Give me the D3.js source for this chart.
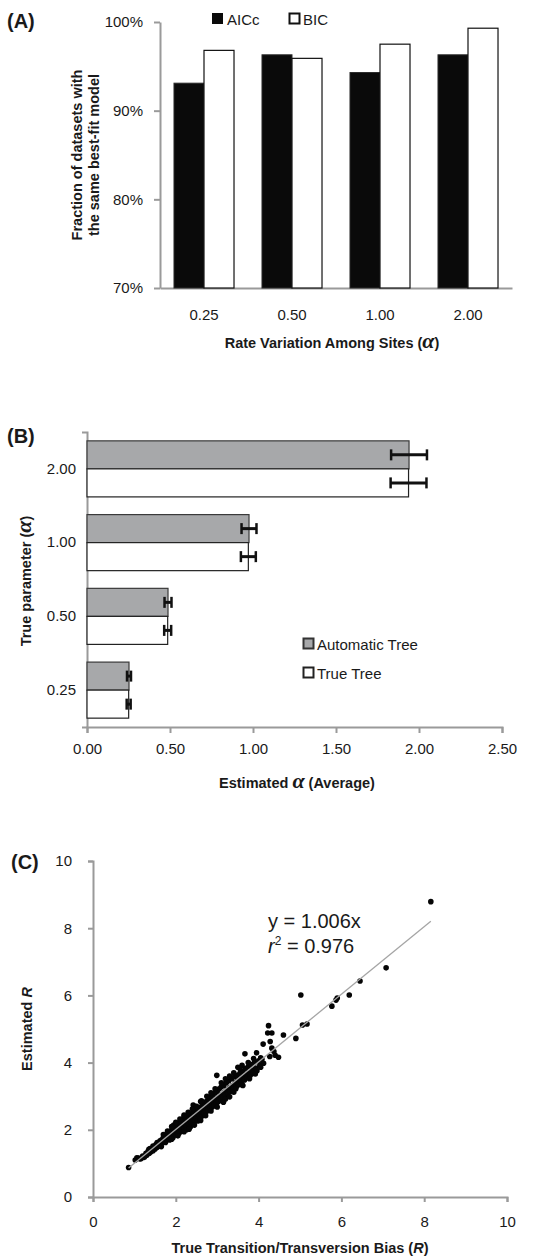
<!DOCTYPE html>
<html>
<head>
<meta charset="utf-8">
<script src="https://cdn.jsdelivr.net/npm/d3@7"></script>
<style>
body{margin:0;background:#fff}
svg{display:block}
text{font-family:"Liberation Sans",Arial,sans-serif;fill:#1a1a1a}
</style>
</head>
<body>
<svg id="fig" width="548" height="1257"></svg>
<script>
// (A) fraction of datasets with the same best-fit model
var rateCats = ["0.25", "0.50", "1.00", "2.00"];
var aiccValues = [0.931, 0.963, 0.943, 0.963];
var bicValues = [0.968, 0.959, 0.975, 0.993];
var pctTicks = [0.70, 0.80, 0.90, 1.00];

// (B) estimated alpha, mean with error
var alphaCats = ["2.00", "1.00", "0.50", "0.25"];
var autoTreeMeans = [1.940, 0.976, 0.488, 0.253];
var autoTreeErr = [0.108, 0.045, 0.021, 0.012];
var trueTreeMeans = [1.937, 0.972, 0.486, 0.251];
var trueTreeErr = [0.108, 0.045, 0.021, 0.012];
var estTicks = [0, 0.5, 1, 1.5, 2, 2.5];

// (C) true vs estimated R
var rTicks = [0, 2, 4, 6, 8, 10];
var fitSlope = 1.006;
var fitR2 = 0.976;
var fitXRange = [0.86, 8.16];
var rPoints = [
	[0.86,0.88],[1.02,1.10],[1.06,1.17],[1.10,1.16],[1.12,1.14],[1.15,1.13],[1.18,1.16],[1.20,1.22],
	[1.24,1.18],[1.28,1.30],[1.30,1.24],[1.33,1.36],[1.36,1.30],[1.38,1.44],[1.40,1.35],[1.43,1.46],
	[1.45,1.38],[1.48,1.50],[1.50,1.43],[1.52,1.56],[1.55,1.48],[1.57,1.60],[1.60,1.52],[1.62,1.67],
	[1.64,1.58],[1.66,1.70],[1.68,1.62],[1.70,1.77],[1.72,1.66],[1.74,1.81],[1.76,1.70],[1.78,1.85],
	[1.80,1.74],[1.82,1.89],[1.84,1.78],[1.85,1.70],[1.87,1.94],[1.88,1.82],[1.90,1.99],[1.92,1.86],
	[1.93,1.76],[1.95,2.03],[1.96,1.90],[1.98,2.08],[2.00,1.94],[2.01,1.84],[2.03,2.12],[2.05,1.98],
	[2.06,2.20],[2.08,1.90],[2.10,2.14],[2.11,2.03],[2.13,2.26],[2.15,1.96],[2.16,2.10],[2.18,2.30],
	[2.20,2.04],[2.21,2.18],[2.23,2.36],[2.25,2.12],[2.26,2.00],[2.28,2.27],[2.30,2.42],[2.31,2.16],
	[2.33,2.31],[2.35,2.08],[2.36,2.46],[2.38,2.22],[2.40,2.35],[2.41,2.50],[2.43,2.18],[2.45,2.41],
	[2.46,2.28],[2.48,2.56],[2.50,2.36],[2.52,2.47],[2.53,2.26],[2.55,2.62],[2.57,2.44],[2.58,2.34],
	[2.60,2.68],[2.62,2.52],[2.63,2.40],[2.65,2.72],[2.67,2.58],[2.68,2.48],[2.70,2.80],[2.72,2.62],
	[2.73,2.52],[2.75,2.86],[2.77,2.70],[2.78,2.58],[2.80,2.92],[2.82,2.74],[2.83,2.62],[2.85,2.98],
	[2.87,2.80],[2.88,2.68],[2.90,3.04],[2.92,2.86],[2.93,2.72],[2.95,3.10],[2.97,2.92],[2.98,2.78],
	[3.00,3.14],[3.02,2.96],[3.03,2.84],[3.05,3.22],[3.07,3.02],[3.09,2.90],[3.10,3.28],[3.12,3.06],
	[3.14,2.96],[3.16,3.32],[3.18,3.12],[3.20,3.02],[3.22,3.40],[3.24,3.20],[3.26,3.08],[3.28,3.46],
	[3.30,3.26],[3.32,3.14],[3.35,3.52],[3.37,3.32],[3.39,3.20],[3.42,3.58],[3.44,3.40],[3.46,3.28],
	[3.48,3.62],[3.50,3.46],[3.52,3.34],[3.55,3.68],[3.57,3.52],[3.59,3.42],[3.62,3.74],[3.64,3.58],
	[3.66,3.48],[3.68,3.82],[3.70,3.64],[3.72,3.56],[3.75,3.88],[3.77,3.70],[3.80,3.62],[3.82,3.94],
	[3.85,3.78],[3.88,3.68],[3.90,4.00],[3.93,3.84],[3.96,3.76],[4.00,4.05],[4.03,3.92],[4.08,4.10],
	[4.12,3.98],[2.42,2.74],[2.99,3.62],[2.30,2.52],[2.60,2.84],[3.30,3.60],[3.50,3.86],[3.60,3.92],
	[3.67,4.26],[3.95,4.29],[4.05,4.14],[3.20,2.92],[3.40,3.12],[3.62,3.32],[2.20,2.40],[1.95,2.14],
	[1.70,1.86],[1.80,1.96],[1.90,2.10],[2.00,2.22],[2.10,2.32],[2.20,2.44],[2.40,2.62],[2.50,2.70],
	[2.62,2.86],[2.75,3.00],[2.85,3.10],[2.95,3.22],[3.10,3.40],[3.20,3.52],[3.40,3.70],[3.55,3.82],
	[3.75,4.00],[3.88,4.12],[1.75,1.62],[1.90,1.72],[2.05,1.82],[2.20,1.94],[2.32,2.02],[2.45,2.14],
	[2.60,2.28],[2.72,2.42],[2.85,2.56],[3.00,2.68],[3.15,2.82],[3.30,2.98],[3.45,3.22],[3.60,3.34],
	[3.78,3.52],[3.92,3.66],[4.05,3.86],[1.55,1.62],[1.45,1.52],[1.35,1.42],[1.65,1.50],
	[4.11,4.55],[4.22,4.88],[4.32,4.88],[4.24,5.10],[4.28,4.63],[4.32,4.43],[4.37,4.33],[4.27,4.18],
	[4.40,4.22],[4.48,4.16],[4.60,4.82],[4.90,4.72],[5.06,5.12],[5.17,5.15],[5.02,6.01],[5.77,5.68],
	[5.87,5.86],[5.90,5.92],[6.19,6.01],[6.45,6.43],[7.08,6.82],[8.16,8.79]
];

var svg = d3.select("#fig");
var axisGray = "#9a9a9a";

function styleAxis(g) {
	g.selectAll(".domain").attr("stroke", axisGray).attr("stroke-width", 2);
	g.selectAll(".tick line").attr("stroke", axisGray).attr("stroke-width", 2);
	g.selectAll(".tick text").attr("font-size", 15).attr("fill", "#1a1a1a")
		.attr("font-family", "Liberation Sans, Arial, sans-serif");
}

function alphaSpan(t) {
	t.append("tspan").attr("font-family", "Liberation Serif, serif").attr("font-style", "italic")
		.attr("font-weight", "bold").attr("font-size", 22).text("\u03b1");
}

// ---------- Panel A ----------
var gA = svg.append("g");
var xA = d3.scaleBand().domain(rateCats).range([160, 512]).paddingInner(0.318).paddingOuter(0.159);
var xSubA = d3.scaleBand().domain(["AICc", "BIC"]).range([0, xA.bandwidth()]);
var yA = d3.scaleLinear().domain([0.70, 1.00]).range([288, 22]);

gA.append("g").attr("transform", "translate(160,0)")
	.call(d3.axisLeft(yA).tickValues(pctTicks).tickFormat(d3.format(".0%")).tickSize(6).tickSizeOuter(0).tickPadding(11))
	.call(styleAxis);
gA.append("g").attr("transform", "translate(0,288)")
	.call(d3.axisBottom(xA).tickSize(0).tickPadding(21))
	.call(styleAxis);

gA.selectAll(".aicc").data(aiccValues).join("rect")
	.attr("x", function(d, i) { return xA(rateCats[i]) + xSubA("AICc"); })
	.attr("y", function(d) { return yA(d); })
	.attr("width", xSubA.bandwidth())
	.attr("height", function(d) { return yA(0.70) - yA(d); })
	.attr("fill", "#0a0a0a").attr("stroke", "#2a2a2a").attr("stroke-width", 1);
gA.selectAll(".bic").data(bicValues).join("rect")
	.attr("x", function(d, i) { return xA(rateCats[i]) + xSubA("BIC"); })
	.attr("y", function(d) { return yA(d); })
	.attr("width", xSubA.bandwidth())
	.attr("height", function(d) { return yA(0.70) - yA(d); })
	.attr("fill", "#fff").attr("stroke", "#111").attr("stroke-width", 1.2);

// legend
gA.append("rect").attr("x", 212).attr("y", 13).attr("width", 11).attr("height", 11).attr("fill", "#0a0a0a");
gA.append("text").attr("x", 227).attr("y", 25).attr("font-size", 15).text("AICc");
gA.append("rect").attr("x", 289.5).attr("y", 13.5).attr("width", 10).attr("height", 10)
	.attr("fill", "#fff").attr("stroke", "#111").attr("stroke-width", 2);
gA.append("text").attr("x", 303).attr("y", 25).attr("font-size", 15).text("BIC");

gA.append("text").attr("x", 7).attr("y", 28).attr("font-size", 20).attr("font-weight", "bold").text("(A)");
var yTitleA = gA.append("text").attr("transform", "translate(82,155) rotate(-90)")
	.attr("text-anchor", "middle").attr("font-size", 14.5).attr("font-weight", "bold");
yTitleA.append("tspan").attr("x", 0).attr("dy", 0).text("Fraction of datasets with");
yTitleA.append("tspan").attr("x", 0).attr("dy", 16.5).text("the same best-fit model");
var xTitleA = gA.append("text").attr("x", 332).attr("y", 348).attr("text-anchor", "middle")
	.attr("font-size", 14.5).attr("font-weight", "bold");
xTitleA.append("tspan").text("Rate Variation Among Sites (");
alphaSpan(xTitleA);
xTitleA.append("tspan").text(")");

// ---------- Panel B ----------
var gB = svg.append("g");
var xB = d3.scaleLinear().domain([0, 2.5]).range([87, 502]);
var yB = d3.scaleBand().domain(alphaCats).range([432, 727]).paddingInner(0.24).paddingOuter(0.12);
var ySubB = d3.scaleBand().domain(["auto", "true"]).range([0, yB.bandwidth()]);

gB.append("g").attr("transform", "translate(0,727)")
	.call(d3.axisBottom(xB).tickValues(estTicks).tickFormat(d3.format(".2f")).tickSize(6).tickSizeOuter(6).tickPadding(10))
	.call(styleAxis);
gB.append("g").attr("transform", "translate(87,0)")
	.call(d3.axisLeft(yB).tickSize(0).tickSizeOuter(5).tickPadding(11))
	.call(styleAxis);

var seriesB = [
	{key: "auto", means: autoTreeMeans, err: autoTreeErr, fill: "#a7a8aa", stroke: "#3a3a3a"},
	{key: "true", means: trueTreeMeans, err: trueTreeErr, fill: "#fff", stroke: "#222"}
];
seriesB.forEach(function(s) {
	gB.selectAll(".bar-" + s.key).data(s.means).join("rect")
		.attr("x", xB(0))
		.attr("y", function(d, i) { return yB(alphaCats[i]) + ySubB(s.key); })
		.attr("width", function(d) { return xB(d) - xB(0); })
		.attr("height", ySubB.bandwidth())
		.attr("fill", s.fill).attr("stroke", s.stroke).attr("stroke-width", 1.2);
});
seriesB.forEach(function(s) {
	s.means.forEach(function(m, i) {
		var cy = yB(alphaCats[i]) + ySubB(s.key) + ySubB.bandwidth() / 2;
		var x0 = xB(m - s.err[i]), x1 = xB(m + s.err[i]);
		gB.append("line").attr("x1", x0).attr("x2", x1).attr("y1", cy).attr("y2", cy)
			.attr("stroke", "#111").attr("stroke-width", 3);
		[x0, x1].forEach(function(x) {
			gB.append("line").attr("x1", x).attr("x2", x).attr("y1", cy - 5.5).attr("y2", cy + 5.5)
				.attr("stroke", "#111").attr("stroke-width", 2.5);
		});
	});
});

// legend
gB.append("rect").attr("x", 303.5).attr("y", 638.5).attr("width", 10).attr("height", 10)
	.attr("fill", "#a7a8aa").attr("stroke", "#333").attr("stroke-width", 2);
gB.append("text").attr("x", 317).attr("y", 650).attr("font-size", 15).text("Automatic Tree");
gB.append("rect").attr("x", 303.5).attr("y", 667.5).attr("width", 10).attr("height", 10)
	.attr("fill", "#fff").attr("stroke", "#222").attr("stroke-width", 2);
gB.append("text").attr("x", 317).attr("y", 679).attr("font-size", 15).text("True Tree");

gB.append("text").attr("x", 7).attr("y", 443).attr("font-size", 20).attr("font-weight", "bold").text("(B)");
var yTitleB = gB.append("text").attr("transform", "translate(31,581) rotate(-90)")
	.attr("text-anchor", "middle").attr("font-size", 14.5).attr("font-weight", "bold");
yTitleB.append("tspan").text("True parameter (");
alphaSpan(yTitleB);
yTitleB.append("tspan").text(")");
var xTitleB = gB.append("text").attr("x", 297).attr("y", 788).attr("text-anchor", "middle")
	.attr("font-size", 14.5).attr("font-weight", "bold");
xTitleB.append("tspan").text("Estimated ");
alphaSpan(xTitleB);
xTitleB.append("tspan").text(" (Average)");

// ---------- Panel C ----------
var gC = svg.append("g");
var xC = d3.scaleLinear().domain([0, 10]).range([93, 507]);
var yC = d3.scaleLinear().domain([0, 10]).range([1197, 861]);

gC.append("g").attr("transform", "translate(0,1197)")
	.call(d3.axisBottom(xC).tickValues(rTicks).tickSize(5).tickSizeOuter(5).tickPadding(14))
	.call(styleAxis);
gC.append("g").attr("transform", "translate(93,0)")
	.call(d3.axisLeft(yC).tickValues(rTicks).tickSize(5).tickSizeOuter(5).tickPadding(16))
	.call(styleAxis);

gC.selectAll(".pt").data(rPoints).join("circle")
	.attr("cx", function(d) { return xC(d[0]); })
	.attr("cy", function(d) { return yC(d[1]); })
	.attr("r", 2.8)
	.attr("fill", "#050505");

// trend line through origin
gC.append("line")
	.attr("x1", xC(fitXRange[0])).attr("y1", yC(fitSlope * fitXRange[0]))
	.attr("x2", xC(fitXRange[1])).attr("y2", yC(fitSlope * fitXRange[1]))
	.attr("stroke", "#a5a5a5").attr("stroke-width", 1.3);

gC.append("text").attr("x", 268).attr("y", 928).attr("font-size", 20).text("y = " + fitSlope.toFixed(3) + "x");
var r2 = gC.append("text").attr("x", 268).attr("y", 953).attr("font-size", 20);
r2.append("tspan").attr("font-style", "italic").text("r");
r2.append("tspan").attr("font-size", 12).attr("dy", -8).text("2");
r2.append("tspan").attr("dy", 8).text(" = " + fitR2.toFixed(3));

gC.append("text").attr("x", 11).attr("y", 869).attr("font-size", 20).attr("font-weight", "bold").text("(C)");
var yTitleC = gC.append("text").attr("transform", "translate(32,1029) rotate(-90)")
	.attr("text-anchor", "middle").attr("font-size", 14.5).attr("font-weight", "bold");
yTitleC.append("tspan").text("Estimated ");
yTitleC.append("tspan").attr("font-style", "italic").text("R");
var xTitleC = gC.append("text").attr("x", 300).attr("y", 1253).attr("text-anchor", "middle")
	.attr("font-size", 14.5).attr("font-weight", "bold");
xTitleC.append("tspan").text("True Transition/Transversion Bias (");
xTitleC.append("tspan").attr("font-style", "italic").text("R");
xTitleC.append("tspan").text(")");
</script>
</body>
</html>
